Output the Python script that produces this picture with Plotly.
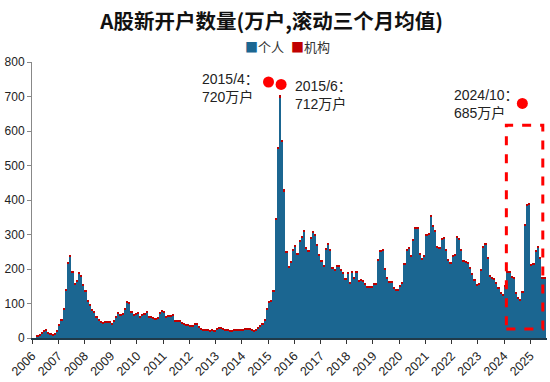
import plotly.graph_objects as go

# ---- data (万户, rolling 3-month mean), monthly from 2006-03 to 2025-07 ----
start_year, start_month = 2006, 3

personal_2006 = [5, 7, 14, 19, 22, 14, 10, 8, 10, 19]
personal_2007 = [37, 50, 82, 138, 216, 235, 189, 156, 163, 188, 177, 152]
personal_2008 = [135, 106, 95, 80, 75, 60, 50, 44, 41, 44, 45, 45]
personal_2009 = [38, 48, 58, 72, 65, 67, 84, 102, 100, 75, 65, 67]
personal_2010 = [72, 60, 65, 69, 74, 60, 58, 56, 55, 56, 72, 77]
personal_2011 = [73, 60, 62, 63, 64, 48, 47, 47, 43, 38, 36, 36]
personal_2012 = [33, 34, 38, 38, 31, 24, 22, 22, 21, 20, 21, 19]
personal_2013 = [24, 27, 28, 26, 22, 21, 20, 20, 21, 22, 22, 21]
personal_2014 = [22, 24, 26, 24, 21, 18, 21, 27, 34, 40, 50, 84]
personal_2015 = [103, 106, 134, 344, 548, 698, 570, 426, 248, 204, 218, 253]
personal_2016 = [266, 241, 281, 291, 308, 259, 250, 289, 305, 296, 269, 238]
personal_2017 = [221, 208, 256, 271, 253, 202, 197, 208, 208, 197, 187, 170]
personal_2018 = [186, 158, 190, 173, 190, 163, 168, 163, 154, 147, 147, 147]
personal_2019 = [156, 156, 224, 250, 255, 198, 173, 161, 161, 144, 138, 138]
personal_2020 = [149, 158, 213, 253, 259, 235, 283, 317, 317, 242, 228, 235]
personal_2021 = [296, 300, 351, 322, 309, 262, 259, 286, 288, 255, 226, 216]
personal_2022 = [235, 240, 291, 285, 255, 223, 218, 216, 200, 183, 168, 152]
personal_2023 = [156, 197, 262, 272, 231, 178, 173, 171, 159, 144, 128, 123]
personal_2024 = [149, 190, 190, 175, 173, 128, 115, 108, 132, 325, 383, 387]
personal_2025 = [210, 214, 250, 262, 229, 173, 173]

inst_2006 = [3, 3, 3, 3, 3, 3, 3, 3, 3, 3]
inst_2007 = [4, 4, 4, 4, 5, 5, 5, 4, 4, 4, 4, 4]
inst_2008 = [4, 4, 4, 3, 3, 3, 3, 3, 3, 3, 3, 3]
inst_2009 = [3, 3, 3, 3, 3, 3, 3, 4, 4, 3, 3, 3]
inst_2010 = [3, 3, 3, 3, 3, 3, 3, 3, 3, 3, 3, 3]
inst_2011 = [3, 3, 3, 3, 3, 3, 3, 3, 3, 3, 3, 3]
inst_2012 = [3, 3, 3, 3, 3, 3, 3, 3, 3, 3, 3, 3]
inst_2013 = [3, 3, 3, 3, 3, 3, 3, 3, 3, 3, 3, 3]
inst_2014 = [3, 3, 3, 3, 3, 3, 3, 3, 3, 3, 3, 4]
inst_2015 = [4, 4, 4, 5, 5, 5, 5, 5, 4, 4, 4, 4]
inst_2016 = [4, 4, 4, 4, 4, 4, 4, 4, 4, 4, 4, 4]
inst_2017 = [4, 4, 4, 4, 4, 4, 4, 4, 4, 4, 4, 4]
inst_2018 = [4, 4, 4, 4, 4, 4, 4, 4, 4, 4, 4, 4]
inst_2019 = [4, 4, 4, 4, 4, 4, 4, 4, 4, 4, 4, 4]
inst_2020 = [4, 4, 4, 4, 4, 4, 4, 4, 4, 4, 4, 4]
inst_2021 = [4, 4, 4, 4, 4, 4, 4, 4, 4, 4, 4, 4]
inst_2022 = [4, 4, 4, 4, 4, 4, 4, 4, 4, 4, 4, 4]
inst_2023 = [4, 4, 4, 4, 4, 4, 4, 4, 4, 4, 4, 4]
inst_2024 = [4, 4, 4, 4, 4, 4, 4, 4, 4, 4, 4, 4]
inst_2025 = [4, 4, 4, 4, 4, 4, 4]

year_labels = [str(y) for y in range(2006, 2026)]
series_names = ["个人", "机构"]

callout_text = ["2015/4：<br>720万户", "2015/6：<br>712万户", "2024/10：<br>685万户"]
callout_value = [720, 712, 685]

# ---- assemble ----
personal = (personal_2006 + personal_2007 + personal_2008 + personal_2009 + personal_2010 +
            personal_2011 + personal_2012 + personal_2013 + personal_2014 + personal_2015 +
            personal_2016 + personal_2017 + personal_2018 + personal_2019 + personal_2020 +
            personal_2021 + personal_2022 + personal_2023 + personal_2024 + personal_2025)
inst = (inst_2006 + inst_2007 + inst_2008 + inst_2009 + inst_2010 + inst_2011 + inst_2012 +
        inst_2013 + inst_2014 + inst_2015 + inst_2016 + inst_2017 + inst_2018 + inst_2019 +
        inst_2020 + inst_2021 + inst_2022 + inst_2023 + inst_2024 + inst_2025)

xpos = []
for i in range(len(personal)):
    m = start_month - 1 + i
    y = start_year + m // 12
    mo = m % 12
    xpos.append(y + (mo + 0.5) / 12.0)

BLUE = "#1B6691"
DARKRED = "#C00000"
FONT = "Liberation Sans, Noto Sans CJK SC, sans-serif"

fig = go.Figure()
fig.add_trace(go.Bar(x=xpos, y=personal, name=series_names[0],
                     marker=dict(color=BLUE, line=dict(width=0)), width=1/12))
fig.add_trace(go.Bar(x=xpos, y=inst, name=series_names[1],
                     marker=dict(color=DARKRED, line=dict(width=0)), width=1/12))

# callout dots
fig.add_trace(go.Scatter(x=[2015.02, 2015.50, 2024.70], y=[742, 735, 680], mode="markers",
                         marker=dict(color="#FF0000", size=11), showlegend=False,
                         hoverinfo="skip", customdata=callout_value))

ann_pos = [(2012.42, 725), (2015.96, 703), (2022.0, 677)]
annotations = []
for (ax, ay), t in zip(ann_pos, callout_text):
    annotations.append(dict(x=ax, y=ay, xref="x", yref="y", text=t, showarrow=False,
                            xanchor="left", yanchor="middle", align="left",
                            font=dict(size=14, color="#222", family="Liberation Sans, Noto Sans CJK SC")))

plot_w = 550 - 32 - 3
plot_h = 382 - 62 - 42
# compact legend (matches the reference's tight layout)
for px, name, col in [(243, series_names[0], BLUE), (289, series_names[1], DARKRED)]:
    annotations.append(dict(
        x=(px - 32) / plot_w, y=(382 - 42 - 46.5) / plot_h, xref="paper", yref="paper",
        showarrow=False, text=f"<span style='color:{col}'>■</span>{name}",
        font=dict(size=13, color="#333", family="Noto Sans CJK SC"),
        xanchor="left", yanchor="middle"))

fig.update_layout(
    width=550, height=382,
    barmode="stack", bargap=0,
    plot_bgcolor="white", paper_bgcolor="white",
    margin=dict(l=32, r=3, t=62, b=42),
    font=dict(family=FONT, size=12, color="#222"),
    title=dict(text="<b>A股新开户数量(万户,滚动三个月均值)</b>", x=0.494, xanchor="center",
               y=0.942, yanchor="middle",
               font=dict(size=20.5, family="Noto Sans CJK SC, sans-serif", color="#111")),
    showlegend=False,
    annotations=annotations,
    shapes=[dict(type="rect", xref="x", yref="y", x0=2024.09, x1=2025.48, y0=26, y1=617,
                 line=dict(color="#FF0000", width=3, dash="dash"), fillcolor="rgba(0,0,0,0)")],
)

fig.update_xaxes(range=[2006, 2025.64], tickmode="array",
                 tickvals=list(range(2006, 2026)), ticktext=year_labels,
                 tickangle=-45, ticks="outside", ticklen=4, tickcolor="#333",
                 showline=True, linecolor="#1f3a4a", linewidth=1.5, showgrid=False,
                 zeroline=False, tickfont=dict(size=12.5, color="#222"))
fig.update_yaxes(range=[0, 800], dtick=100, ticks="outside", ticklen=4, tickcolor="#888",
                 showline=True, linecolor="#888", linewidth=1, showgrid=False, zeroline=False,
                 tickfont=dict(size=12, color="#222"))

fig.write_html("out.html", config={"displayModeBar": False},
               post_script="document.body.style.margin='0';")
